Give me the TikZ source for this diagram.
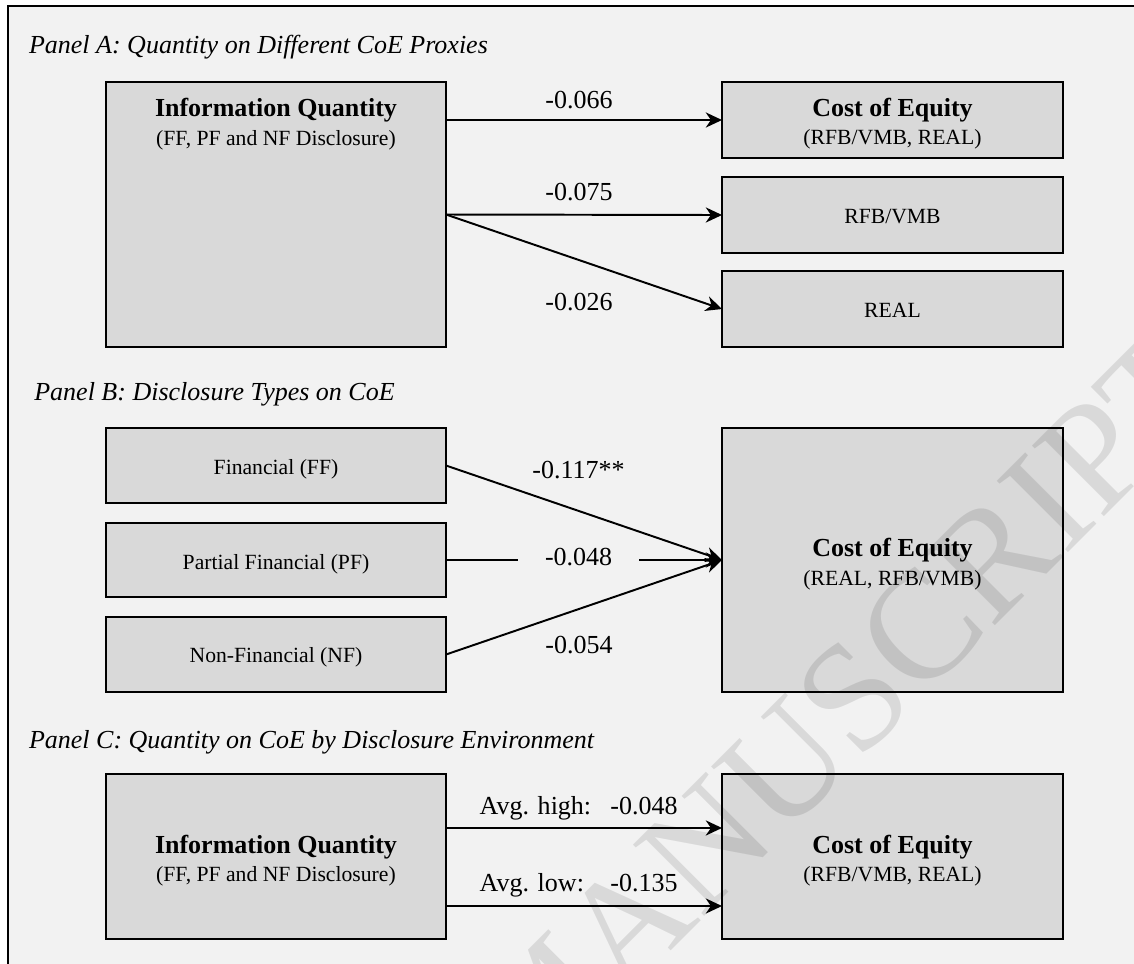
\documentclass[tikz,border=0pt]{standalone}
\usepackage{fontspec}
\setmainfont{Liberation Serif}
\usetikzlibrary{arrows.meta,fit,calc}
\definecolor{bgc}{HTML}{F2F2F2}
\definecolor{boxc}{HTML}{D9D9D9}
\begin{document}
\begin{tikzpicture}[x=0.4615pt,y=-0.4615pt,
  box/.style={draw=black, line width=0.85pt, fill=boxc, inner sep=0pt, outer sep=0pt},
  lbl/.style={inner sep=0pt, anchor=base west, font=\fontsize{12}{14}\selectfont},
  ttl/.style={inner sep=0pt, anchor=base west, font=\fontsize{12}{14}\selectfont\itshape},
  bt/.style={inner sep=0pt, anchor=base, font=\fontsize{12}{14}\selectfont\bfseries},
  st/.style={inner sep=0pt, anchor=base, font=\fontsize{10}{12}\selectfont},
  arr/.style={line width=0.9pt, -{Stealth[length=7.5pt,width=7pt,inset=2.4pt]}},
  ln/.style={line width=0.9pt},
  wmark/.style={inner sep=0pt, anchor=base west, rotate=45, text=black, text opacity=0.1,
    font=\fontsize{71}{76}\selectfont}]
\useasboundingbox (0,0) rectangle (1134,963);
\clip (0,0) rectangle (1134,963);
\fill[bgc] (8,6) rectangle (1140,970);
\draw[line width=0.9pt] (8,970) -- (8,6) -- (1140,6);

% ---------- Panel A ----------
\node[ttl] (tA) at (28.6,53.3) {Panel A: Quantity on Different CoE Proxies};
\node[box, fit={(106,82) (446,347)}] (iqA) {};
\node[bt] (iqAt) at (276,116.7) {Information Quantity};
\node[st] (iqAs) at (276,145) {(FF, PF and NF Disclosure)};
\node[box, fit={(722,82) (1063,158)}] (coeA) {};
\node[bt] (coeAt) at (892.5,116.7) {Cost of Equity};
\node[st] (coeAs) at (892.5,144) {(RFB/VMB, REAL)};
\node[box, fit={(722,177) (1063,253)}] (rfb) {};
\node[st] (rfbt) at (892.5,223) {RFB/VMB};
\node[box, fit={(722,271) (1063,347)}] (real) {};
\node[st] (realt) at (892.5,317) {REAL};

\draw[arr] (iqA.east |- coeA.west) -- (coeA.west);
\draw[arr] (iqA.east) -- (rfb.west);
\draw[arr] (iqA.east) -- (real.west);
\node[lbl] (lA1) at (545,108.3) {-0.066};
\node[lbl] (lA2) at (545,200) {-0.075};
\node[lbl] (lA3) at (545,310) {-0.026};

% ---------- Panel B ----------
\node[ttl] (tB) at (33.9,400.7) {Panel B: Disclosure Types on CoE};
\node[box, fit={(106,428) (446,503)}] (ff) {};
\node[st] (fft) at (276,474) {Financial (FF)};
\node[box, fit={(106,523) (446,597)}] (pf) {};
\node[st] (pft) at (276,569) {Partial Financial (PF)};
\node[box, fit={(106,617) (446,692)}] (nf) {};
\node[st] (nft) at (276,662) {Non-Financial (NF)};
\node[box, fit={(722,428) (1063,692)}] (coeB) {};
\node[bt] (coeBt) at (892.5,556.7) {Cost of Equity};
\node[st] (coeBs) at (892.5,585.5) {(REAL, RFB/VMB)};

\node[lbl] (lB1) at (532,478.3) {-0.117**};
\node[font=\fontsize{12}{14}\selectfont, inner ysep=0pt, inner xsep=12.4pt, anchor=base] (lB2) at (578.6,565) {-0.048};
\node[lbl] (lB3) at (545,653.3) {-0.054};
\draw[arr] (ff.east) -- (coeB.west);
\draw[ln] (pf.east) -- (pf.east -| lB2.west);
\draw[arr] (coeB.west -| lB2.east) -- (coeB.west);
\draw[arr] (nf.east) -- (coeB.west);

% ---------- Panel C ----------
\node[ttl] (tC) at (28.6,748.3) {Panel C: Quantity on CoE by Disclosure Environment};
\node[box, fit={(106,774) (446,939)}] (iqC) {};
\node[bt] (iqCt) at (276,853.3) {Information Quantity};
\node[st] (iqCs) at (276,881.7) {(FF, PF and NF Disclosure)};
\node[box, fit={(722,774) (1063,939)}] (coeC) {};
\node[bt] (coeCt) at (892.5,853.3) {Cost of Equity};
\node[st] (coeCs) at (892.5,881.7) {(RFB/VMB, REAL)};
\coordinate (c1) at ($(coeC.north west)!0.327!(coeC.south west)$);
\coordinate (c2) at ($(coeC.north west)!0.8!(coeC.south west)$);
\draw[arr] (iqC.east |- c1) -- (c1);
\draw[arr] (iqC.east |- c2) -- (c2);
\node[lbl] (lC1) at (479.3,814) {\makebox[60.3pt][l]{Avg. high:}-0.048};
\node[lbl] (lC2) at (479.3,891.7) {\makebox[60.3pt][l]{Avg. low:}-0.135};

% ---------- watermark ----------
\node[wmark] (wm) at (526,1095) {MANUSCRIPT};
\end{tikzpicture}
\end{document}
